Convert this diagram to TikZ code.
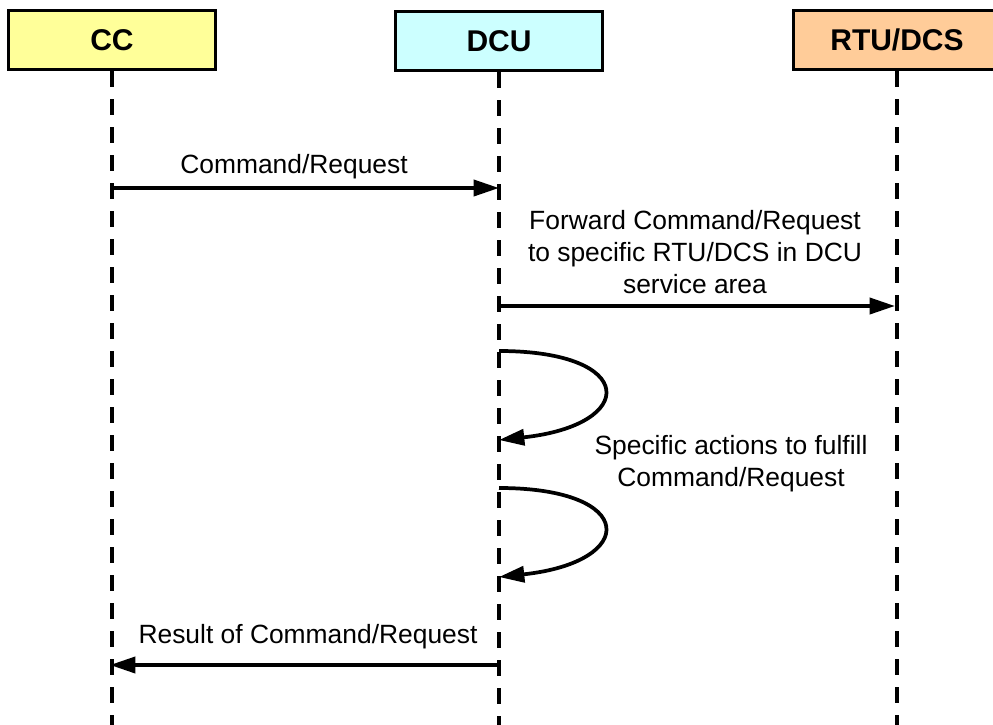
\documentclass[tikz,border=0pt]{standalone}
\usepackage{fontspec}
\setmainfont{Liberation Sans}
\usetikzlibrary{arrows.meta, positioning, calc}
\definecolor{ccfill}{HTML}{FFFF99}
\definecolor{dcufill}{HTML}{CCFFFF}
\definecolor{rtufill}{HTML}{FFCC99}
\tikzset{
	actor/.style={draw, line width=2.5pt, minimum width=155pt, minimum height=44pt, inner sep=0pt, font=\fontsize{22.5}{27}\selectfont\bfseries},
	lifeline/.style={line width=3pt, dash pattern=on 12pt off 9pt},
	msg/.style={line width=2.8pt, -{Triangle[length=19pt, width=12pt]}},
	lbl/.style={font=\fontsize{19.8}{24}\selectfont, align=center, inner sep=0pt}
}
\begin{document}
\begin{tikzpicture}[x=0.75pt, y=-0.75pt]
	\useasboundingbox (0,0) rectangle (993,725);

	\node[actor, fill=ccfill]	(CC)	at (112,40)	{CC};
	\node[actor, fill=dcufill]	(DCU)	at (499,41)	{DCU};
	\node[actor, fill=rtufill]	(RTU)	at (897,40)	{RTU/DCS};

	\coordinate (bot) at (0,735);
	\draw[lifeline] (CC.south) -- (CC.south |- bot);
	\draw[lifeline] (DCU.south) -- (DCU.south |- bot);
	\draw[lifeline] (RTU.south) -- (RTU.south |- bot);

	\coordinate (cmdA) at (110,188);
	\coordinate (cmdB) at (499,188);
	\coordinate (fwdA) at (499,306);
	\coordinate (fwdB) at (895,306);
	\coordinate (actA) at (499,351);
	\coordinate (actB) at (499,440);
	\coordinate (actC) at (499,488);
	\coordinate (actD) at (499,577);
	\coordinate (resA) at (499,665);
	\coordinate (resB) at (110,665);

	\draw[msg] (cmdA) -- (cmdB);
	\draw[msg] (fwdA) -- (fwdB);
	\draw[msg] (actA) .. controls (638,351) and (638,425) .. (actB);
	\draw[msg] (actC) .. controls (638,488) and (638,562) .. (actD);
	\draw[msg] (resA) -- (resB);

	\node[lbl] (cmdL) at (294,167)	{Command/Request};
	\node[lbl] (fwdL) at (695,252)	{Forward Command/Request\\to specific RTU/DCS in DCU\\service area};
	\node[lbl] (actL) at (731,464)	{Specific actions to fulfill\\Command/Request};
	\node[lbl] (resL) at (308,637)	{Result of Command/Request};
\end{tikzpicture}
\end{document}
